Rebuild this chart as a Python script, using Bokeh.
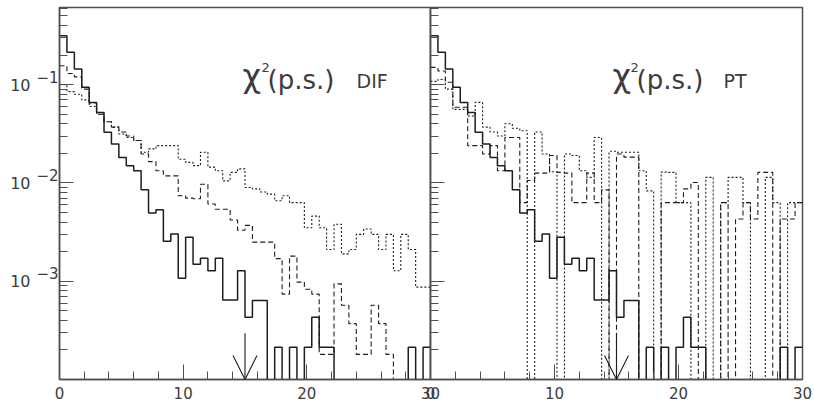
import numpy as np
from bokeh.plotting import figure
from bokeh.layouts import row
from bokeh.models import FixedTicker, Range1d, Label, Arrow, OpenHead, LogAxis
from bokeh.embed import file_html
from bokeh.resources import INLINE

# ---------------- data ----------------
bin_width = 0.6
n_bins = 50

# solid histogram (same in both panels)
solid = [0.315, 0.214, 0.1445, 0.094, 0.066, 0.052, 0.0328, 0.0249, 0.0182, 0.015,
         0.0133, 0.00855, 0.00495, 0.00535, 0.00255, 0.00303, 0.00107, 0.0028, 0.00149, 0.00171,
         0.00128, 0.00171, 0.000646, 0.000646, 0.00128, 0.00043, 0.000635, 0.000635, 0, 0.000213,
         0, 0.000213, 0, 0.000213, 0.00043, 0.000213, 0.000213, 0, 0, 0,
         0, 0, 0, 0, 0, 0, 0, 0.000213, 0, 0.000213]

dif_dashed = [0.156, 0.13, 0.12, 0.09, 0.065, 0.05, 0.042, 0.037, 0.033, 0.030,
              0.027, 0.0197, 0.0165, 0.0133, 0.0118, 0.0118, 0.0074, 0.0070, 0.0069, 0.0097,
              0.0061, 0.0054, 0.0054, 0.0042, 0.0033, 0.0037, 0.0025, 0.0025, 0.0025, 0.0017,
              0.00074, 0.0018, 0.00098, 0.00083, 0.00074, 0.00018, 0.00018, 0.00094, 0.00057, 0.00037,
              0.00018, 0.00018, 0.00057, 0.00037, 0.00018, 0, 0, 0, 0, 0]

dif_dotted = [0.10, 0.085, 0.08, 0.07, 0.06, 0.05, 0.042, 0.037, 0.0315, 0.029,
              0.027, 0.0205, 0.0222, 0.024, 0.024, 0.024, 0.0174, 0.0162, 0.0150, 0.0205,
              0.0145, 0.0133, 0.0105, 0.0128, 0.0139, 0.0090, 0.0087, 0.0081, 0.0077, 0.0066,
              0.0074, 0.0063, 0.0063, 0.0035, 0.0046, 0.0035, 0.0021, 0.0038, 0.0019, 0.0021,
              0.0030, 0.0034, 0.0030, 0.0021, 0.0030, 0.00128, 0.0030, 0.0021, 0.00087, 0.00087]

pt_dashed = [0.15, 0.138, 0.106, 0.059, 0.059, 0.024, 0.024, 0.0197, 0.024, 0.0133,
             0.029, 0.029, 0.0063, 0.0106, 0.0126, 0.0126, 0.019, 0.0128, 0.0126, 0.0063,
             0.0063, 0.0126, 0.0063, 0.0085, 0.0, 0.0197, 0.0183, 0.0183, 0, 0,
             0, 0.0063, 0.0063, 0.0063, 0.0087, 0.0101, 0, 0, 0, 0.0063,
             0, 0.0043, 0.0063, 0.0043, 0.0128, 0.0128, 0, 0.0043, 0.0043, 0.0063]

pt_dotted = [0.108, 0.113, 0.09, 0.056, 0.056, 0.048, 0.066, 0.037, 0.033, 0.03,
             0.04, 0.036, 0.034, 0, 0.033, 0.0197, 0.013, 0, 0.0197, 0.019,
             0.0133, 0.0114, 0.029, 0, 0.021, 0.0205, 0.0205, 0.0205, 0.0133, 0.0083,
             0, 0.0129, 0.0128, 0.0063, 0.0063, 0, 0, 0.0114, 0, 0.0063,
             0.0114, 0.0114, 0.0063, 0, 0, 0.0114, 0.0063, 0, 0.0063, 0.0063]

cut_value = 15
arrow_top = 2.95e-4
x_ticks = [0, 10, 20, 30]
x_minor = list(range(0, 31, 2))
y_major = [1e-3, 1e-2, 1e-1]
y_major_base = ["10", "10", "10"]
y_major_exp = ["\u22123", "\u22122", "\u22121"]
titles = ["DIF", "PT"]

# ---------------- layout constants ----------------
y_min, y_max = 1e-4, 0.61
floor = 1e-7
ink = "#1e1e1e"
axis_col = "#505050"
text_col = "#3c3c3c"
H = 404
top_b, bot_b = 7, 25
frame_h = H - top_b - bot_b
decade_px = frame_h / (np.log10(y_max) - np.log10(y_min))

edges = np.arange(n_bins + 1) * bin_width


def step_y(vals):
    v = np.array(vals, dtype=float)
    v = np.where(v > 0, v, floor)
    return np.append(v, v[-1])


def y_at(px):
    # data value at a vertical pixel position (from canvas top)
    lo, hi = np.log10(y_min), np.log10(y_max)
    return 10 ** (hi - (px - top_b) / frame_h * (hi - lo))


def label_axis(ticks, texts, size, standoff):
    ax = LogAxis(ticker=FixedTicker(ticks=ticks, minor_ticks=[]),
                 major_label_overrides={t: s for t, s in zip(ticks, texts)},
                 axis_line_color=None, major_tick_line_color=None, minor_tick_line_color=None,
                 major_tick_in=0, major_tick_out=0, minor_tick_in=0, minor_tick_out=0,
                 major_label_standoff=standoff, major_label_text_font="DejaVu Sans",
                 major_label_text_font_size=size, major_label_text_color=text_col)
    return ax


def make_panel(width, bl, br, dashed, dotted, show_ylabels, title, tpos):
    p = figure(width=width, height=H, x_range=Range1d(0, 30), y_range=Range1d(y_min, y_max),
               y_axis_type="log", output_backend="svg", toolbar_location=None,
               min_border_left=bl, min_border_right=br, min_border_top=top_b, min_border_bottom=bot_b)
    p.xgrid.visible = False
    p.ygrid.visible = False
    p.outline_line_color = axis_col
    p.outline_line_width = 1.5
    p.background_fill_color = "white"

    for ax in (p.xaxis[0], p.yaxis[0]):
        ax.axis_line_color = axis_col
        ax.axis_line_width = 1.5
        ax.major_tick_line_color = axis_col
        ax.minor_tick_line_color = axis_col
        ax.major_tick_out = 0
        ax.minor_tick_out = 0
        ax.major_label_text_color = text_col
        ax.major_label_text_font = "DejaVu Sans"

    p.xaxis.ticker = FixedTicker(ticks=x_ticks, minor_ticks=x_minor)
    p.xaxis.major_tick_in = 15
    p.xaxis.minor_tick_in = 8
    p.xaxis.major_label_text_font_size = "15px"
    p.xaxis.major_label_standoff = 7

    y_minor = [m * 10.0 ** e for e in (-4, -3, -2, -1) for m in range(2, 10) if m * 10.0 ** e < y_max]
    p.yaxis.ticker = FixedTicker(ticks=y_major, minor_ticks=y_minor)
    p.yaxis.major_tick_in = 14
    p.yaxis.minor_tick_in = 8
    p.yaxis.major_label_text_font_size = "15px"
    p.yaxis.major_label_overrides = {t: "" for t in y_major}
    p.yaxis.major_label_standoff = 0
    if show_ylabels:
        shift_up = 10 ** (8 / decade_px)
        p.add_layout(label_axis([t * shift_up for t in y_major], y_major_exp, "15px", 1), "left")
        p.add_layout(label_axis(list(y_major), y_major_base, "16px", 3), "left")

    p.step(edges, step_y(dotted), mode="after", line_color=ink, line_width=1.1, line_dash="2 2")
    p.step(edges, step_y(dashed), mode="after", line_color=ink, line_width=1.1, line_dash="5 3")
    p.step(edges, step_y(solid), mode="after", line_color=ink, line_width=1.5)

    p.add_layout(Arrow(end=OpenHead(size=24, line_width=1.1, line_color=ink),
                       x_start=cut_value, y_start=arrow_top, x_end=cut_value, y_end=y_min,
                       line_color=ink, line_width=1.1))

    # title pieces: (text, left pixel, centre pixel, font size)
    fl, ppu = tpos["frame_left"], tpos["ppu"]
    pieces = [("\u03c7", tpos["chi"], 75, "32px"),
              ("2", tpos["sup"], 67, "13px"),
              ("(p.s.)", tpos["par"], 79, "26px"),
              (title, tpos["word"], 80, "19px")]
    for txt, px, cy, fs in pieces:
        p.add_layout(Label(x=(px - fl) / ppu, y=y_at(cy), text=txt, text_font="DejaVu Sans",
                           text_font_size=fs, text_color=text_col, text_baseline="middle",
                           text_align="left"))
    return p


p1 = make_panel(444, 59, 14, dif_dashed, dif_dotted, True, titles[0],
                dict(frame_left=59, ppu=371 / 30, chi=242, sup=261, par=267, word=356))
p2 = make_panel(398, 14, 12, pt_dashed, pt_dotted, False, titles[1],
                dict(frame_left=430, ppu=372 / 30, chi=612, sup=630, par=636, word=723))
p2.border_fill_color = None
p2.margin = (0, 0, 0, -28)

layout = row(p1, p2)
open("out.html", "w").write(file_html(layout, INLINE))
